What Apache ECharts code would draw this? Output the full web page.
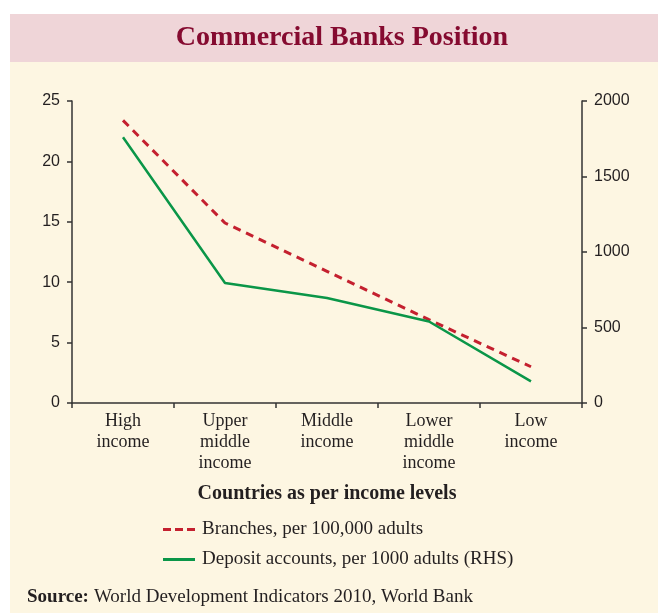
<!DOCTYPE html>
<html>
<head>
<meta charset="utf-8">
<script src="https://cdn.jsdelivr.net/npm/echarts@6/dist/echarts.min.js"></script>
<style>
html,body{margin:0;padding:0;background:#fff;}
#chart{width:658px;height:615px;}
</style>
</head>
<body>
<div id="chart"></div>
<script>
var categories = ['High\nincome', 'Upper\nmiddle\nincome', 'Middle\nincome', 'Lower\nmiddle\nincome', 'Low\nincome'];
var branches = [23.4, 14.9, 10.9, 6.9, 3.0];
var deposits = [1760, 795, 695, 540, 143];
var leftTicks = [0, 25, 5];
var rightTicks = [0, 2000, 500];
var seriesNames = ['Branches, per 100,000 adults', 'Deposit accounts, per 1000 adults (RHS)'];

var serif = '"Liberation Serif", "DejaVu Serif", serif';
var sans = '"Liberation Sans", Roboto, sans-serif';
var axisColor = '#333333';

var chart = echarts.init(document.getElementById('chart'), null, {renderer: 'canvas'});
chart.setOption({
  animation: false,
  backgroundColor: '#ffffff',
  graphic: [
    {type: 'rect', z: -10, shape: {x: 10, y: 62, width: 648, height: 551}, style: {fill: '#fdf6e2'}},
    {type: 'rect', z: -10, shape: {x: 10, y: 14, width: 648, height: 48}, style: {fill: '#efd5d8'}}
  ],
  title: [
    {
      text: 'Commercial Banks Position',
      left: 337, top: 19, textAlign: 'center',
      textStyle: {fontFamily: serif, fontSize: 28, fontWeight: 'bold', color: '#850b30'}
    },
    {
      text: '{b|Source:} {r|World Development Indicators 2010, World Bank}',
      left: 22, top: 583,
      textStyle: {
        fontWeight: 'normal',
        rich: {
          b: {fontFamily: serif, fontSize: 19, fontWeight: 'bold', color: '#231f20'},
          r: {fontFamily: serif, fontSize: 19, fontWeight: 'normal', color: '#231f20'}
        }
      }
    }
  ],
  legend: {
    orient: 'vertical',
    left: 158, top: 515,
    itemWidth: 32, itemHeight: 3, itemGap: 11,
    textStyle: {fontFamily: serif, fontSize: 19, color: '#231f20', padding: [0, 0, 0, 2]},
    data: [
      {name: seriesNames[0], icon: 'path://M0,0h8v3h-8z M12,0h8v3h-8z M24,0h8v3h-8z'},
      {name: seriesNames[1], icon: 'path://M0,0h32v3h-32z'}
    ]
  },
  grid: {left: 72, right: 76, top: 101, bottom: 212, containLabel: false},
  xAxis: {
    type: 'category',
    data: categories,
    boundaryGap: true,
    name: 'Countries as per income levels',
    nameLocation: 'middle',
    nameGap: 81,
    nameTextStyle: {fontFamily: serif, fontSize: 20, fontWeight: 'bold', color: '#231f20'},
    axisLine: {lineStyle: {color: axisColor, width: 1.5}},
    axisTick: {show: true, inside: false, length: 5, lineStyle: {color: axisColor, width: 1.5}},
    axisLabel: {fontFamily: serif, fontSize: 18, lineHeight: 21, color: '#231f20', margin: 8, interval: 0},
    splitLine: {show: false}
  },
  yAxis: [
    {
      type: 'value', position: 'left',
      min: leftTicks[0], max: leftTicks[1], interval: leftTicks[2],
      axisLine: {show: true, lineStyle: {color: axisColor, width: 1.5}},
      axisTick: {show: true, inside: false, length: 5, lineStyle: {color: axisColor, width: 1.5}},
      axisLabel: {fontFamily: sans, fontSize: 16, color: '#231f20', margin: 12},
      splitLine: {show: false}
    },
    {
      type: 'value', position: 'right',
      min: rightTicks[0], max: rightTicks[1], interval: rightTicks[2],
      axisLine: {show: true, lineStyle: {color: axisColor, width: 1.5}},
      axisTick: {show: true, inside: false, length: 5, lineStyle: {color: axisColor, width: 1.5}},
      axisLabel: {fontFamily: sans, fontSize: 16, color: '#231f20', margin: 12, formatter: function (v) { return String(v); }},
      splitLine: {show: false}
    }
  ],
  series: [
    {
      name: seriesNames[0],
      type: 'line',
      yAxisIndex: 0,
      data: branches,
      symbol: 'none',
      color: '#c4202f',
      lineStyle: {color: '#c4202f', width: 3, type: [8, 6]}
    },
    {
      name: seriesNames[1],
      type: 'line',
      yAxisIndex: 1,
      data: deposits,
      symbol: 'none',
      color: '#0a9648',
      lineStyle: {color: '#0a9648', width: 2.5, type: 'solid'}
    }
  ]
});
</script>
</body>
</html>
